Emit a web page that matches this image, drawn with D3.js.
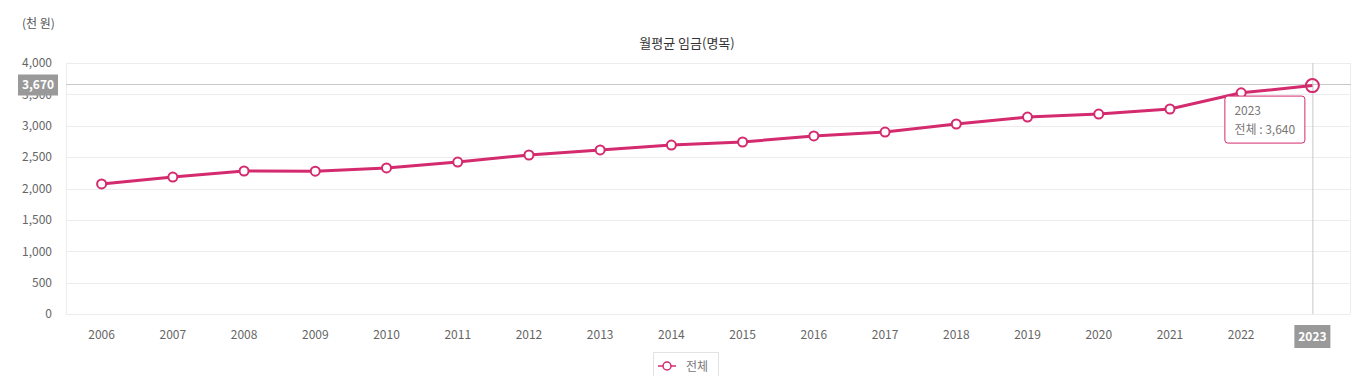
<!DOCTYPE html>
<html>
<head>
<meta charset="utf-8">
<title>월평균 임금(명목)</title>
<script src="https://d3js.org/d3.v7.min.js"></script>
<style>
  body { margin: 0; background: #fff; font-family: "Noto Sans CJK KR", "Noto Sans", sans-serif; }
  svg text { font-family: "Noto Sans CJK KR", "Noto Sans", sans-serif; }
</style>
</head>
<body>
<script>
// data
const years = ["2006","2007","2008","2009","2010","2011","2012","2013","2014","2015","2016","2017","2018","2019","2020","2021","2022","2023"]
const wages = [2072, 2183, 2279, 2276, 2327, 2422, 2534, 2614, 2693, 2741, 2837, 2900, 3028, 3139, 3187, 3267, 3525, 3640]
const yTicks = [0, 500, 1000, 1500, 2000, 2500, 3000, 3500, 4000]
const seriesName = "전체"
const hoverValue = 3670
const activeIdx = years.length - 1

const w = 1372, h = 376
const m = {top: 63, right: 22, bottom: 62, left: 66}
const pink = "#d42a6e"

let svg = d3.select("body").append("svg")
  .attr("width", w).attr("height", h)

let x = d3.scaleBand().domain(years).range([m.left, w - m.right - 2])
let y = d3.scaleLinear().domain([0, 4000]).range([h - m.bottom, m.top])
let cx = d => x(d) + x.bandwidth() / 2

// unit + title
svg.append("text").attr("x", 22).attr("y", 28)
  .attr("font-size", 12).attr("fill", "#555").text("(천 원)")
svg.append("text").attr("x", 687).attr("y", 48)
  .attr("text-anchor", "middle").attr("font-size", 13).attr("fill", "#333")
  .text("월평균 임금(명목)")

// grid
svg.append("g").selectAll("line").data(yTicks).join("line")
  .attr("x1", m.left).attr("x2", w - m.right)
  .attr("y1", d => Math.round(y(d)) + 0.5).attr("y2", d => Math.round(y(d)) + 0.5)
  .attr("stroke", "#ececec")
svg.append("line").attr("x1", m.left + 0.5).attr("x2", m.left + 0.5)
  .attr("y1", m.top).attr("y2", h - m.bottom).attr("stroke", "#ececec")
svg.append("line").attr("x1", w - m.right + 0.5).attr("x2", w - m.right + 0.5)
  .attr("y1", m.top).attr("y2", h - m.bottom).attr("stroke", "#ececec")

// y axis labels
let yAxis = svg.append("g").attr("transform", `translate(${m.left - 11},0)`)
  .call(d3.axisLeft(y).tickValues(yTicks).tickSize(0).tickFormat(d3.format(",")))
yAxis.select(".domain").remove()
yAxis.selectAll("text").attr("font-size", 12).attr("fill", "#666")

// x axis labels
let xAxis = svg.append("g").attr("transform", `translate(0,${h - m.bottom + 13})`)
  .call(d3.axisBottom(x).tickSize(0))
xAxis.select(".domain").remove()
xAxis.selectAll("text").attr("font-size", 12).attr("fill", "#666")

// crosshair
let hy = Math.round(y(hoverValue)) + 0.5
svg.append("line").attr("x1", m.left).attr("x2", w - m.right + 1)
  .attr("y1", hy).attr("y2", hy).attr("stroke", "#c8c8c8")
svg.append("line").attr("x1", cx(years[activeIdx]) + 0.5).attr("x2", cx(years[activeIdx]) + 0.5)
  .attr("y1", m.top).attr("y2", h - m.bottom).attr("stroke", "#c8c8c8")

// line
let line = d3.line().x((d, i) => cx(years[i])).y(d => y(d))
svg.append("path").datum(wages).attr("d", line)
  .attr("fill", "none").attr("stroke", pink).attr("stroke-width", 3)
svg.append("g").selectAll("circle").data(wages.slice(0, activeIdx)).join("circle")
  .attr("cx", (d, i) => cx(years[i])).attr("cy", d => y(d)).attr("r", 4.5)
  .attr("fill", "#fff").attr("stroke", pink).attr("stroke-width", 2)
svg.append("circle").attr("cx", cx(years[activeIdx])).attr("cy", y(wages[activeIdx])).attr("r", 6.5)
  .attr("fill", "none").attr("stroke", pink).attr("stroke-width", 2)

// crosshair labels
let yl = svg.append("g")
yl.append("rect").attr("x", 18).attr("y", hy - 10).attr("width", 40).attr("height", 21).attr("fill", "#999")
yl.append("text").attr("x", 38).attr("y", hy + 4.5).attr("text-anchor", "middle")
  .attr("font-size", 12).attr("font-weight", "bold").attr("fill", "#fff").text(d3.format(",")(hoverValue))
let xl = svg.append("g")
let lx = cx(years[activeIdx])
xl.append("rect").attr("x", lx - 18).attr("y", h - m.bottom + 11).attr("width", 36).attr("height", 23).attr("fill", "#999")
xl.append("text").attr("x", lx).attr("y", h - m.bottom + 27).attr("text-anchor", "middle")
  .attr("font-size", 12).attr("font-weight", "bold").attr("fill", "#fff").text(years[activeIdx])

// tooltip
let tx = cx(years[activeIdx]) - 88, ty = y(wages[activeIdx]) + 10
let tip = svg.append("g").attr("transform", `translate(${tx},${ty})`)
tip.append("rect").attr("x", 0.5).attr("y", 0.5).attr("width", 80).attr("height", 47).attr("rx", 3)
  .attr("fill", "#fff").attr("stroke", pink)
tip.append("text").attr("x", 10).attr("y", 19).attr("font-size", 12).attr("fill", "#777").text(years[activeIdx])
tip.append("text").attr("x", 10).attr("y", 38).attr("font-size", 12).attr("fill", "#777")
  .text(seriesName + " : " + d3.format(",")(wages[activeIdx]))

// legend
let lg = svg.append("g").attr("transform", "translate(653,352)")
lg.append("rect").attr("x", 0.5).attr("y", 0.5).attr("width", 65).attr("height", 30)
  .attr("fill", "#fff").attr("stroke", "#e3e3e3")
lg.append("line").attr("x1", 5).attr("x2", 23).attr("y1", 14).attr("y2", 14).attr("stroke", pink).attr("stroke-width", 1.5)
lg.append("circle").attr("cx", 14).attr("cy", 14).attr("r", 4).attr("fill", "#fff").attr("stroke", pink).attr("stroke-width", 1.5)
lg.append("text").attr("x", 33).attr("y", 18.5).attr("font-size", 12).attr("fill", "#777").text(seriesName)
</script>
</body>
</html>
